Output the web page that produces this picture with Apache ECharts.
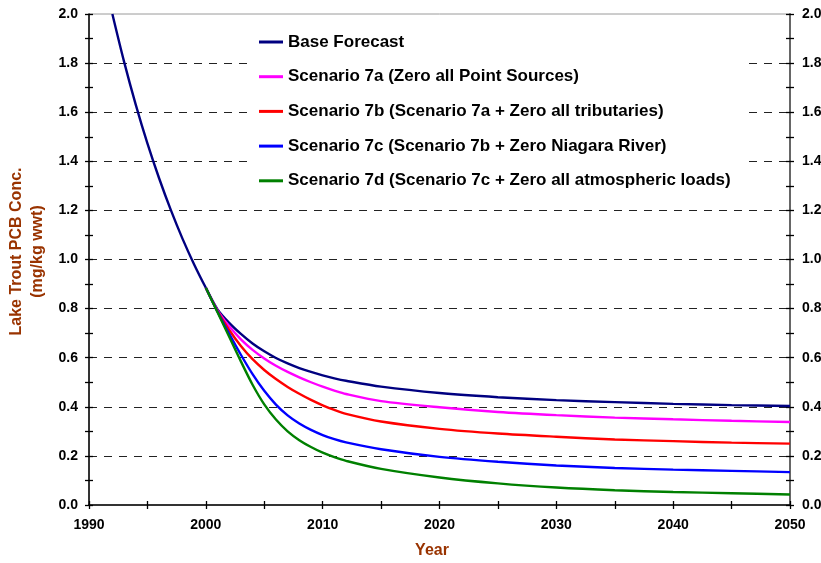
<!DOCTYPE html>
<html>
<head>
<meta charset="utf-8">
<script src="https://cdn.jsdelivr.net/npm/echarts@6/dist/echarts.min.js"></script>
<style>
  html, body { margin: 0; padding: 0; background: #fff; }
  #chart { width: 821px; height: 563px; }
</style>
</head>
<body>
<div id="chart"></div>
<script>
// Years sampled along the curves
var years = [1992, 1993, 1994, 1995, 1996, 1997, 1998, 1999, 2000, 2001, 2002, 2003, 2004, 2005, 2006,
  2007, 2008, 2009, 2010, 2011, 2012, 2015, 2020, 2025, 2030, 2035, 2040, 2045, 2050];

// Lake trout PCB concentration (mg/kg wwt)
var baseForecast = [2.0, 1.806, 1.631, 1.473, 1.331, 1.202, 1.085, 0.98, 0.885, 0.797, 0.742, 0.697, 0.658, 0.626, 0.599,
  0.577, 0.558, 0.542, 0.528, 0.516, 0.506, 0.482, 0.456, 0.439, 0.427, 0.419, 0.412, 0.407, 0.403];
var scenario7a = [null, null, null, null, null, null, null, null, 0.885, 0.793, 0.728, 0.675, 0.632, 0.597, 0.567,
  0.542, 0.52, 0.50, 0.482, 0.466, 0.452, 0.423, 0.398, 0.379, 0.366, 0.356, 0.349, 0.343, 0.338];
var scenario7b = [null, null, null, null, null, null, null, null, 0.885, 0.79, 0.713, 0.648, 0.594, 0.55, 0.513,
  0.481, 0.453, 0.428, 0.406, 0.387, 0.371, 0.34, 0.31, 0.291, 0.278, 0.267, 0.26, 0.254, 0.25];
var scenario7c = [null, null, null, null, null, null, null, null, 0.885, 0.787, 0.697, 0.612, 0.533, 0.465, 0.409,
  0.365, 0.332, 0.306, 0.285, 0.268, 0.255, 0.227, 0.196, 0.176, 0.161, 0.151, 0.144, 0.139, 0.134];
var scenario7d = [null, null, null, null, null, null, null, null, 0.885, 0.785, 0.685, 0.585, 0.49, 0.41, 0.348,
  0.30, 0.264, 0.236, 0.213, 0.195, 0.18, 0.147, 0.112, 0.088, 0.071, 0.06, 0.053, 0.048, 0.043];

var seriesNames = [
  'Base Forecast',
  'Scenario 7a (Zero all Point Sources)',
  'Scenario 7b (Scenario 7a + Zero all tributaries)',
  'Scenario 7c (Scenario 7b + Zero Niagara River)',
  'Scenario 7d (Scenario 7c + Zero all atmospheric loads)'
];
var seriesValues = [baseForecast, scenario7a, scenario7b, scenario7c, scenario7d];
var seriesColors = ['#000080', '#ff00ff', '#ff0000', '#0000ff', '#008000'];

var FONT = 'Arial, "Liberation Sans", sans-serif';
var BROWN = '#993300';

var labelStyle = { fontFamily: FONT, fontSize: 14, fontWeight: 'bold', color: '#000' };

function pairs(vals) {
  return years.map(function (y, i) { return [y, vals[i]]; });
}

var series = seriesNames.map(function (name, i) {
  return {
    name: name,
    type: 'line',
    data: pairs(seriesValues[i]),
    smooth: 0.3,
    showSymbol: false,
    symbol: 'none',
    lineStyle: { color: seriesColors[i], width: 2.4 },
    itemStyle: { color: seriesColors[i] },
    emphasis: { disabled: true },
    z: 2 + i
  };
});

var xCommon = { type: 'value', min: 1990, max: 2050, interval: 10, position: 'bottom' };
var yCommon = { type: 'value', min: 0, max: 2, interval: 0.2 };

var option = {
  animation: false,
  backgroundColor: '#fff',
  grid: {
    left: 89, right: 31, top: 14, bottom: 58,
    show: true, borderColor: '#9a9a9a', borderWidth: 1,
    outerBoundsMode: 'none'
  },
  legend: {
    orient: 'vertical',
    left: 247,
    top: 20,
    padding: [12, 15, 7, 12],
    backgroundColor: '#fff',
    itemWidth: 24,
    itemHeight: 3,
    itemGap: 14.7,
    icon: 'rect',
    selectedMode: false,
    data: seriesNames,
    textStyle: { fontFamily: FONT, fontSize: 17, fontWeight: 'bold', color: '#000', lineHeight: 20 }
  },
  xAxis: [
    Object.assign({}, xCommon, {
      name: 'Year',
      nameLocation: 'middle',
      nameGap: 38,
      nameTextStyle: { fontFamily: FONT, fontSize: 16, fontWeight: 'bold', color: BROWN, padding: [0, 15, 0, 0] },
      axisLine: { lineStyle: { color: '#000', width: 1.5 } },
      axisTick: { show: true, length: 4, lineStyle: { color: '#000', width: 1.3 } },
      minorTick: { show: true, splitNumber: 2, length: 4, lineStyle: { color: '#000', width: 1.3 } },
      axisLabel: Object.assign({ margin: 13, formatter: function (v) { return String(v); } }, labelStyle),
      splitLine: { show: false }
    }),
    Object.assign({}, xCommon, {
      axisLine: { show: false },
      axisTick: { show: true, inside: true, length: 4, lineStyle: { color: '#000', width: 1.3 } },
      minorTick: { show: true, splitNumber: 2, length: 4, lineStyle: { color: '#000', width: 1.3 } },
      axisLabel: { show: false },
      splitLine: { show: false }
    })
  ],
  yAxis: [
    Object.assign({}, yCommon, {
      position: 'left',
      name: 'Lake Trout PCB Conc.\n(mg/kg wwt)',
      nameLocation: 'middle',
      nameGap: 34,
      nameTextStyle: { fontFamily: FONT, fontSize: 16, fontWeight: 'bold', color: BROWN, lineHeight: 21, padding: [0, 0, 0, 16] },
      axisLine: { show: true, lineStyle: { color: '#000', width: 1.5 } },
      axisTick: { show: true, length: 4, lineStyle: { color: '#000', width: 1.3 } },
      minorTick: { show: true, splitNumber: 2, length: 4, lineStyle: { color: '#000', width: 1.3 } },
      axisLabel: Object.assign({ margin: 11, formatter: function (v) { return v.toFixed(1); } }, labelStyle),
      splitLine: {
        show: true, showMinLine: false, showMaxLine: false,
        lineStyle: { color: '#222', width: 1, type: [8, 7] }
      }
    }),
    Object.assign({}, yCommon, {
      position: 'left',
      axisLine: { show: false },
      axisTick: { show: true, inside: true, length: 4, lineStyle: { color: '#000', width: 1.3 } },
      minorTick: { show: true, splitNumber: 2, length: 4, lineStyle: { color: '#000', width: 1.3 } },
      axisLabel: { show: false },
      splitLine: { show: false }
    }),
    Object.assign({}, yCommon, {
      position: 'right',
      axisLine: { show: true, lineStyle: { color: '#666', width: 2 } },
      axisTick: { show: true, length: 4, lineStyle: { color: '#000', width: 1.3 } },
      minorTick: { show: true, splitNumber: 2, length: 4, lineStyle: { color: '#000', width: 1.3 } },
      axisLabel: Object.assign({ margin: 12, formatter: function (v) { return v.toFixed(1); } }, labelStyle),
      splitLine: { show: false }
    }),
    Object.assign({}, yCommon, {
      position: 'right',
      axisLine: { show: false },
      axisTick: { show: true, inside: true, length: 4, lineStyle: { color: '#000', width: 1.3 } },
      minorTick: { show: true, splitNumber: 2, length: 4, lineStyle: { color: '#000', width: 1.3 } },
      axisLabel: { show: false },
      splitLine: { show: false }
    })
  ],
  series: series
};

var chart = echarts.init(document.getElementById('chart'), null, { renderer: 'canvas' });
chart.setOption(option);
</script>
</body>
</html>
